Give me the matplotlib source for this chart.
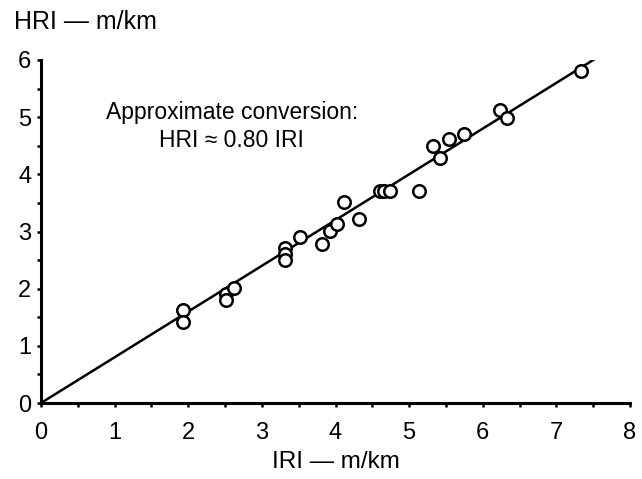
import numpy as np
import matplotlib
matplotlib.use('Agg')
import matplotlib.pyplot as plt

plt.rcParams['font.family'] = ['Liberation Sans', 'DejaVu Sans']

# measured points (IRI, HRI), m/km
iri = [1.93, 1.93, 2.51, 2.51, 2.62, 3.32, 3.32, 3.32, 3.52, 3.82, 3.93, 4.02,
       4.11, 4.32, 4.60, 4.66, 4.74, 5.13, 5.32, 5.42, 5.54, 5.74, 6.23, 6.33, 7.34]
hri = [1.63, 1.41, 1.91, 1.80, 2.02, 2.71, 2.61, 2.50, 2.90, 2.79, 3.01, 3.13,
       3.52, 3.22, 3.71, 3.71, 3.70, 3.70, 4.50, 4.29, 4.61, 4.70, 5.12, 4.98, 5.80]

slope = 0.80
line_end = 7.55

fig = plt.figure(figsize=(6.42, 4.79), dpi=100)
ax = fig.add_axes([41/642, 1 - 403/479, (630-41)/642, (403-60)/479])

xl = np.array([0, line_end])
ax.plot(xl, slope * xl, color='black', lw=1.8, zorder=2)
ax.plot(iri, hri, 'o', mfc='white', mec='black', mew=1.8, ms=9, zorder=3)

ax.set_xlim(0, 8)
ax.set_ylim(0, 6)
ax.spines['top'].set_visible(False)
ax.spines['right'].set_visible(False)
ax.spines['left'].set_linewidth(2.2)
ax.spines['bottom'].set_linewidth(2.2)

ax.set_xticks(range(0, 9))
ax.set_yticks(range(0, 7))
ax.set_xticks(np.arange(0.5, 8, 1), minor=True)
ax.set_yticks(np.arange(0.5, 6, 1), minor=True)
ax.tick_params(which='both', direction='out', length=3, width=1.8, labelsize=17)
ax.tick_params(axis='y', pad=4)
ax.tick_params(axis='x', pad=11)

ax.set_xlabel('IRI — m/km', fontsize=17.5, labelpad=5)
fig.text(14/642, 1 - 22/479, 'HRI — m/km', fontsize=18, va='center', ha='left')

ax.text(2.59, 4.84, 'Approximate conversion:\nHRI ≈ 0.80 IRI', fontsize=16.5,
        ha='center', va='center', linespacing=1.25)

fig.savefig('out.png', dpi=100)
